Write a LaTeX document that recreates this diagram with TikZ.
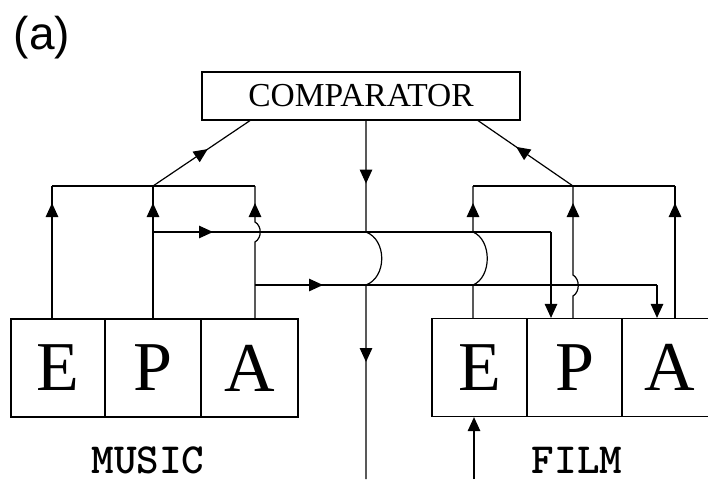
\documentclass[tikz,border=0pt]{standalone}
\usepackage{fontspec}
\newfontfamily\labsans{Liberation Sans}
\newfontfamily\labserif{Liberation Serif}
\newfontfamily\labmono{lmmonolt10-bold.otf}
\usetikzlibrary{arrows.meta,decorations.markings}

\tikzset{
  >={Triangle[length=14pt,width=12.5pt]},
  wire/.style={line width=1.2pt},
  arrowat/.style={postaction={decorate,decoration={markings,
      mark=at position #1 with {\arrow{>}}}}},
  cell/.style={draw, line width=1.2pt, minimum height=98pt, inner sep=0pt,
      font=\labserif\fontsize{70}{70}\selectfont},
  compbox/.style={draw, line width=1.2pt, minimum width=318pt, minimum height=48pt,
      inner sep=0pt, font=\labserif\fontsize{33.5}{33.5}\selectfont},
  medialabel/.style={font=\labmono\fontsize{43}{43}\selectfont,
      inner sep=0pt, anchor=base, text depth=0pt},
}

\begin{document}
\begin{tikzpicture}[x=1pt,y=-1pt]
\useasboundingbox (0,0) rectangle (708,479);

% panel label
\node[font=\labsans\fontsize{46}{46}\selectfont, inner sep=0pt] (panel) at (42,38) {(a)};

% comparator
\node[compbox] (comp) at (361,96) {COMPARATOR};

% music E/P/A cells
\node[cell, minimum width=94pt] (mE) at (58,368) {E};
\node[cell, minimum width=96pt] (mP) at (153,368) {P};
\node[cell, minimum width=97pt] (mA) at (249.5,368) {A};
% film E/P/A cells
\node[cell, minimum width=95pt] (fE) at (479.5,367.5) {E};
\node[cell, minimum width=95pt] (fP) at (574.5,367.5) {P};
\node[cell, minimum width=95pt] (fA) at (669.5,367.5) {A};

\node[medialabel] (music) at (148,473) {MUSIC};
\node[medialabel] (film) at (577,473) {FILM};

% junctions on the two collecting buses
\coordinate (lb1) at (52,186);
\coordinate (lb2) at (153,186);
\coordinate (lb3) at (255,186);
\coordinate (rb1) at (473,186);
\coordinate (rb2) at (573,186);
\coordinate (rb3) at (675,186);
% cross links between the two sides
\coordinate (tstart) at (153,232);
\coordinate (tcorner) at (551,232);
\coordinate (lstart) at (255,285);
\coordinate (lcorner) at (657,285);
% bottom ends
\coordinate (centerend) at (366,479);
\coordinate (filmin) at (474,479);

% left bus and its risers
\draw[wire] (lb1) -- (lb3);
\draw[wire, arrowat=-17pt] (mE.north -| lb1) -- (lb1);
\draw[wire, arrowat=-17pt] (mP.north -| lb2) -- (lb2);
\draw[wire, arrowat=-17pt] (mA.north -| lb3) -- (255,242)
  .. controls (262,238) and (262,226) .. (255,222) -- (lb3);
\draw[wire, arrowat=66pt] (lb2) -- ([xshift=-111pt]comp.south);

% right bus and its risers
\draw[wire] (rb1) -- (rb3);
\draw[wire, arrowat=-17pt] (fE.north -| rb1) -- (473,285)
  .. controls (492,277) and (492,240) .. (473,232) -- (rb1);
\draw[wire, arrowat=-17pt] (fP.north -| rb2) -- (573,296)
  .. controls (580,292) and (580,279) .. (573,275) -- (rb2);
\draw[wire, arrowat=-17pt] (fA.north -| rb3) -- (rb3);
\draw[wire, arrowat=69pt] (rb2) -- ([xshift=117pt]comp.south);

% comparator output down the middle
\draw[wire, arrowat=63pt, arrowat=-117pt] ([xshift=5pt]comp.south) -- (366,232)
  .. controls (387,240) and (387,277) .. (366,285) -- (centerend);

% cross links from music to film
\draw[wire, arrowat=60pt] (tstart) -- (tcorner);
\draw[wire, ->] (tcorner) -- (fP.north -| tcorner);
\draw[wire, arrowat=68pt] (lstart) -- (lcorner);
\draw[wire, ->] (lcorner) -- (fA.north -| lcorner);

% external input to film E
\draw[wire, ->] (filmin) -- (fE.south -| filmin);
\end{tikzpicture}
\end{document}
